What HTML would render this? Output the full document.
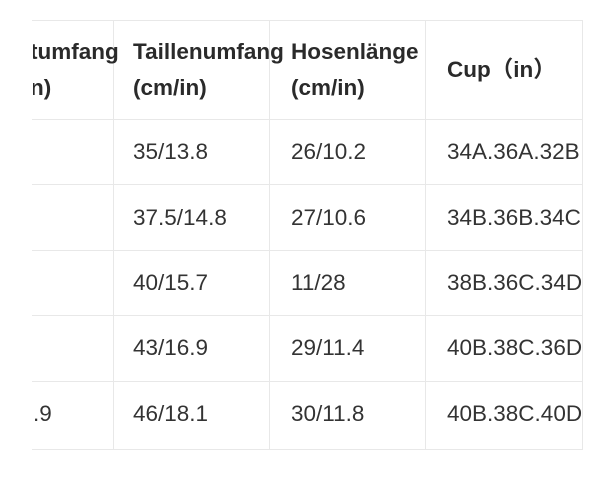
<!DOCTYPE html>
<html><head><meta charset="utf-8"><style>
body{margin:0;width:600px;height:481px;background:#fff;position:relative;overflow:hidden;font-family:"Liberation Sans","Noto Sans CJK SC",sans-serif;color:#333;}
.h{position:absolute;left:32px;width:550px;height:1px;background:#e8e8e8;}
.v{position:absolute;top:20px;height:430px;width:1px;background:#e8e8e8;}
.t{position:absolute;font-size:22.5px;line-height:26px;white-space:nowrap;}
.b{font-weight:bold;color:#2a2a2a;}
</style></head><body>
<div class="h" style="top:20px"></div>
<div class="h" style="top:119px"></div>
<div class="h" style="top:184px"></div>
<div class="h" style="top:250px"></div>
<div class="h" style="top:315px"></div>
<div class="h" style="top:381px"></div>
<div class="h" style="top:449px"></div>
<div class="v" style="left:113px"></div>
<div class="v" style="left:269px"></div>
<div class="v" style="left:425px"></div>
<div class="v" style="left:582px"></div>

<div class="t b" style="left:30px;top:39px;clip-path:inset(0 0 0 3px)">tumfang</div>
<div class="t b" style="left:30px;top:75px;clip-path:inset(0 0 0 3px)">n)</div>
<div class="t b" style="left:133px;top:39px">Taillenumfang</div>
<div class="t b" style="left:133px;top:75px">(cm/in)</div>
<div class="t b" style="left:291px;top:39px">Hosenlänge</div>
<div class="t b" style="left:291px;top:75px">(cm/in)</div>
<div class="t b" style="left:447px;top:57px">Cup（in）</div>

<div class="t" style="left:133px;top:139px">35/13.8</div>
<div class="t" style="left:291px;top:139px">26/10.2</div>
<div class="t" style="left:447px;top:139px">34A.36A.32B</div>

<div class="t" style="left:133px;top:205px">37.5/14.8</div>
<div class="t" style="left:291px;top:205px">27/10.6</div>
<div class="t" style="left:447px;top:205px">34B.36B.34C</div>

<div class="t" style="left:133px;top:270px">40/15.7</div>
<div class="t" style="left:291px;top:270px">11/28</div>
<div class="t" style="left:447px;top:270px">38B.36C.34D</div>

<div class="t" style="left:133px;top:335px">43/16.9</div>
<div class="t" style="left:291px;top:335px">29/11.4</div>
<div class="t" style="left:447px;top:335px">40B.38C.36D</div>

<div class="t" style="left:33px;top:401px">.9</div>
<div class="t" style="left:133px;top:401px">46/18.1</div>
<div class="t" style="left:291px;top:401px">30/11.8</div>
<div class="t" style="left:447px;top:401px">40B.38C.40D</div>
</body></html>
